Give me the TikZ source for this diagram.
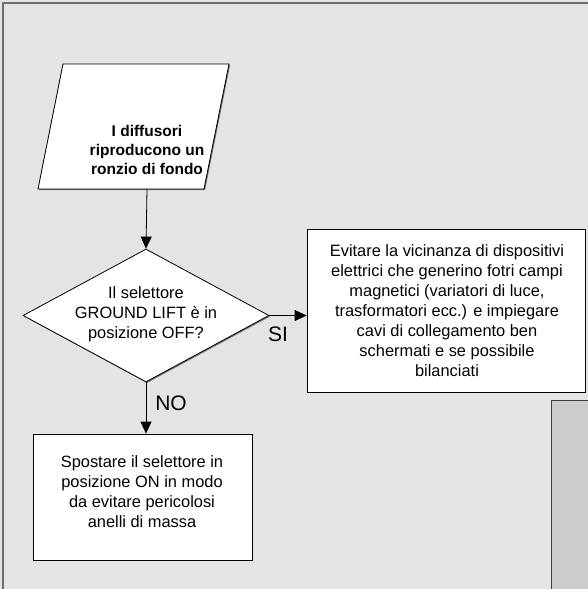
\documentclass[tikz,border=0pt]{standalone}
\usepackage{fontspec}
\setmainfont{Liberation Sans}
\usetikzlibrary{arrows.meta,shapes.geometric,shadows}

\definecolor{pagebg}{HTML}{E4E4E4}
\definecolor{framecol}{HTML}{6E6E6E}
\definecolor{sidebox}{HTML}{CCCCCC}

\tikzset{
  outline/.style={draw=black, line width=0.8pt, fill=white,
    drop shadow={shadow xshift=1.1pt, shadow yshift=-1.1pt, fill=black!55, opacity=1}},
  plainbox/.style={outline, rectangle, inner sep=0pt},
  bodytext/.style={align=center, inner sep=0pt,
    font=\fontsize{16.4}{20}\selectfont},
  boldtext/.style={align=center, inner sep=0pt,
    font=\fontsize{15.5}{19.2}\selectfont\bfseries},
  branchlabel/.style={inner sep=0pt, font=\fontsize{21}{24}\selectfont},
  flow/.style={draw=black, line width=0.8pt, -{Triangle[length=12pt,width=11pt]}}
}

\begin{document}
\begin{tikzpicture}[x=1pt, y=-1pt]
  \useasboundingbox (0,0) rectangle (587,589);
  \fill[pagebg] (-2,-2) rectangle (590,592);
  \draw[framecol, line width=1.6pt] (3,592) -- (3,3) -- (590,3);

  % grey panel cut off at the lower right
  \fill[sidebox] (551,400) rectangle (592,594);
  \draw[black!75, line width=0.9pt] (551,594) -- (551,400) -- (592,400);

  % input parallelogram
  \coordinate (pTL) at (63,64);
  \coordinate (pTR) at (229,64);
  \coordinate (pBR) at (204,189);
  \coordinate (pBL) at (38,189);
  \filldraw[outline] (pTL) -- (pTR) -- (pBR) -- (pBL) -- cycle;
  \node[boldtext] (start) at (147,150) {I diffusori\\riproducono un\\ronzio di fondo};
  \coordinate (startOut) at (147,189);

  % decision
  \node[outline, diamond, minimum width=246pt, minimum height=133pt,
        inner sep=0pt] (check) at (146,315.5) {};
  \node[bodytext] (checkText) at (146,314) {Il selettore\\GROUND LIFT è in\\posizione OFF?};

  % outcome boxes
  \node[plainbox, minimum width=278pt, minimum height=163pt] (yes) at (446,310.5) {};
  \node[bodytext] (yesText) at (447,311) {Evitare la vicinanza di dispositivi\\elettrici che generino fotri campi\\magnetici (variatori di luce,\\trasformatori ecc.) e impiegare\\cavi di collegamento ben\\schermati e se possibile\\bilanciati};

  \node[plainbox, minimum width=219pt, minimum height=126pt] (no) at (142.5,497) {};
  \node[bodytext] (noText) at (142,492) {Spostare il selettore in\\posizione ON in modo\\da evitare pericolosi\\anelli di massa};

  % connectors
  \draw[flow] (startOut) -- (check.north);
  \draw[flow] (check.east) -- (yes.west |- check.east);
  \draw[flow] (check.south) -- (no.north -| check.south);

  \node[branchlabel] (siLabel) at (278,334) {SI};
  \node[branchlabel] (noLabel) at (171,403) {NO};
\end{tikzpicture}
\end{document}
